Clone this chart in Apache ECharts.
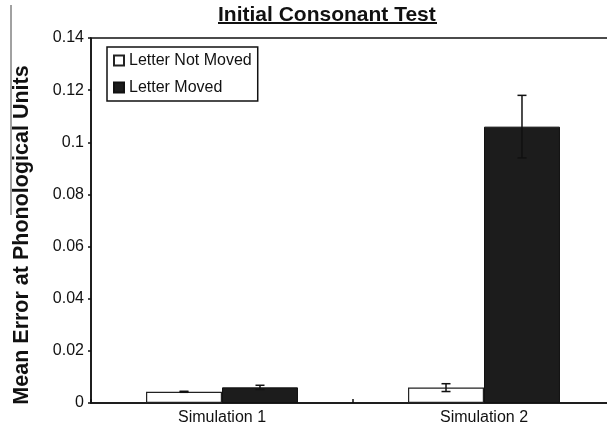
<!DOCTYPE html>
<html>
<head>
<meta charset="utf-8">
<script src="https://cdn.jsdelivr.net/npm/echarts@6/dist/echarts.min.js"></script>
<style>html,body{margin:0;padding:0;background:#fff}#c{width:607px;height:429px}</style>
</head>
<body>
<div id="c"></div>
<script>
const categories = ['Simulation 1', 'Simulation 2'];
const seriesNames = ['Letter Not Moved', 'Letter Moved'];
const notMoved = [0.0043, 0.0059];
const notMovedErr = [0.0002, 0.0015];
const moved = [0.0060, 0.106];
const movedErr = [0.0008, 0.012];
const yMin = 0, yMax = 0.14, yStep = 0.02;
const yTitle = 'Mean Error at Phonological Units';

const FONT = 'Liberation Sans, Arial, sans-serif';
const GAP = 0.42;

function errData(vals, errs) {
  return vals.map((v, i) => [i, v, errs[i]]);
}
function errRender(sign) {
  return function (params, api) {
    const cat = api.value(0), v = api.value(1), e = api.value(2);
    const band = api.size([1, 0])[0];
    const bw = band * (1 - GAP) / 2;
    const top = api.coord([cat, v + e]);
    const bot = api.coord([cat, v - e]);
    const x = top[0] + sign * bw / 2;
    const cap = 4.5;
    const st = { stroke: '#111', lineWidth: 1.5 };
    return {
      type: 'group',
      children: [
        { type: 'line', shape: { x1: x, y1: top[1], x2: x, y2: bot[1] }, style: st },
        { type: 'line', shape: { x1: x - cap, y1: top[1], x2: x + cap, y2: top[1] }, style: st },
        { type: 'line', shape: { x1: x - cap, y1: bot[1], x2: x + cap, y2: bot[1] }, style: st }
      ]
    };
  };
}

const chart = echarts.init(document.getElementById('c'), null, { renderer: 'canvas' });
chart.setOption({
  animation: false,
  backgroundColor: '#fff',
  textStyle: { fontFamily: FONT },
  title: {
    text: 'Initial Consonant Test',
    left: 218, top: 3,
    padding: 0,
    textStyle: { fontFamily: FONT, fontSize: 21, fontWeight: 'bold', color: '#111', lineHeight: 24 }
  },
  graphic: [
    { type: 'rect', left: 218, top: 22, shape: { width: 219, height: 2 }, style: { fill: '#111' } },
    { type: 'line', shape: { x1: 11, y1: 5, x2: 11, y2: 215 }, style: { stroke: '#444', lineWidth: 1 } },
    {
      type: 'text', x: 22, y: 235, rotation: Math.PI / 2,
      style: {
        text: yTitle, fontFamily: FONT, fontSize: 21.5, fontWeight: 'bold', fill: '#111',
        align: 'center', verticalAlign: 'middle'
      }
    }
  ],
  legend: {
    orient: 'vertical',
    left: 107, top: 47,
    padding: [5, 6, 5, 6],
    itemGap: 10,
    itemWidth: 10, itemHeight: 10,
    icon: 'rect',
    borderColor: '#111', borderWidth: 1.5,
    data: seriesNames,
    textStyle: { fontFamily: FONT, fontSize: 16, color: '#111', lineHeight: 17 }
  },
  grid: {
    left: 91, top: 38, width: 524, height: 365,
    outerBoundsMode: 'none',
    containLabel: false,
    show: true, borderColor: '#111', borderWidth: 1.5, backgroundColor: 'transparent'
  },
  xAxis: {
    type: 'category',
    data: categories,
    axisLine: { lineStyle: { color: '#111', width: 1.5 } },
    axisTick: { show: true, inside: true, length: 4, lineStyle: { color: '#111', width: 1.5 } },
    axisLabel: { fontFamily: FONT, fontSize: 16, color: '#111', margin: 7 }
  },
  yAxis: {
    type: 'value',
    min: yMin, max: yMax, interval: yStep,
    splitLine: { show: false },
    axisLine: { show: true, lineStyle: { color: '#111', width: 1.5 } },
    axisTick: { show: true, length: 3, lineStyle: { color: '#111', width: 1.5 } },
    axisLabel: { fontFamily: FONT, fontSize: 16, color: '#111', margin: 7 }
  },
  series: [
    {
      name: seriesNames[0], type: 'bar', data: notMoved,
      barGap: '0%', barCategoryGap: (GAP * 100) + '%',
      itemStyle: { color: '#fff', borderColor: '#222', borderWidth: 1.2 }
    },
    {
      name: seriesNames[1], type: 'bar', data: moved,
      barGap: '0%', barCategoryGap: (GAP * 100) + '%',
      itemStyle: { color: '#1c1c1c', borderColor: '#111', borderWidth: 1 }
    },
    {
      type: 'custom', renderItem: errRender(-1), data: errData(notMoved, notMovedErr),
      encode: { x: 0, y: 1 }, z: 5, silent: true
    },
    {
      type: 'custom', renderItem: errRender(1), data: errData(moved, movedErr),
      encode: { x: 0, y: 1 }, z: 5, silent: true
    }
  ]
});
</script>
</body>
</html>
